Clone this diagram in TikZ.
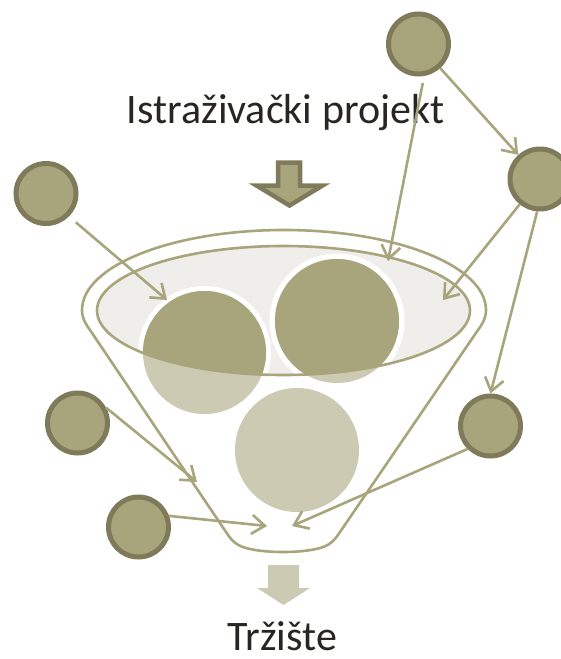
\documentclass[tikz,border=0pt]{standalone}
\usepackage{fontspec}
\setmainfont{Carlito}
\usetikzlibrary{arrows.meta}
\definecolor{olive}{HTML}{A8A47C}
\definecolor{oliveD}{HTML}{7F7B5A}
\definecolor{oliveL}{HTML}{CCCAB2}
\definecolor{ellfill}{HTML}{EFEEEA}
\definecolor{txt}{HTML}{282622}
\tikzset{
  smallc/.style={circle, draw=oliveD, fill=olive, line width=5pt, minimum size=60pt, inner sep=0pt},
  conn/.style={draw=olive, line width=2.6pt, -{Straight Barb[length=13pt,width=19pt]}},
  outl/.style={draw=olive, line width=2.6pt},
  bigtext/.style={font=\fontsize{42}{42}\selectfont, text=txt, anchor=base, inner sep=0pt}
}
\begin{document}
\begin{tikzpicture}[x=1pt,y=-1pt]
\useasboundingbox (0,0) rectangle (560,659);
% outer funnel
\path[outl, fill=white] (82,310) .. controls (82,265.8) and (172.4,230) .. (284,230)
  .. controls (395.6,230) and (486,265.8) .. (486,310)
  .. controls (486,318) and (483,323) .. (478,330) -- (340,532)
  .. controls (334,541) and (330,546) .. (316,549)
  .. controls (298,553) and (268,553) .. (250,549)
  .. controls (236,546) and (232,541) .. (226,532) -- (90,330)
  .. controls (85,323) and (82,318) .. cycle;
% inner ellipse fill
\fill[ellfill] (283.5,310.5) ellipse [x radius=186.5, y radius=64.5];
% big circles: white rings and light parts
\fill[white] (204.5,352.5) circle [radius=66.5];
\fill[white] (337,321) circle [radius=67.5];
\fill[white] (297,450) circle [radius=67];
\fill[oliveL] (204.5,352.5) circle [radius=61.5];
\fill[oliveL] (337,321) circle [radius=62];
\fill[oliveL] (297,450) circle [radius=62];
\begin{scope}
  \clip (283.5,310.5) ellipse [x radius=186.5, y radius=64.5];
  \fill[olive] (204.5,352.5) circle [radius=61.5];
  \fill[olive] (337,321) circle [radius=62];
\end{scope}
\draw[outl] (283.5,310.5) ellipse [x radius=186.5, y radius=64.5];
% top block arrow
\draw[fill=olive, draw=oliveD, line width=4.5pt, line join=miter]
  (278,162.5) -- (300,162.5) -- (300,185.5) -- (322.5,185.5) -- (289.5,205.5)
  -- (256.5,185.5) -- (278,185.5) -- cycle;
% bottom block arrow
\fill[oliveL] (268,565) -- (299,565) -- (299,588) -- (310,588) -- (283.5,605)
  -- (257,588) -- (268,588) -- cycle;
% texts
\node[bigtext] (t1) at (285.5,123) {Istraživački projekt};
\node[bigtext] (t2) at (282.5,650) {Tržište};
% small circles
\node[smallc] (tr) at (418.5,44) {};
\node[smallc] (rr) at (540,179) {};
\node[smallc] (lt) at (46,193.5) {};
\node[smallc] (lm) at (77.5,423) {};
\node[smallc] (lb) at (138.5,527) {};
\node[smallc] (rm) at (490.5,426) {};
% arrow targets
\coordinate (e2) at (388,261);
\coordinate (e3) at (443,300);
\coordinate (e5) at (167,300);
\coordinate (e6) at (197,482);
\coordinate (e7) at (267,526);
\coordinate (e8) at (292,526);
% connectors
\draw[conn] (tr) -- (rr);
\draw[conn, shorten <=7pt] (tr.-80) -- (e2);
\draw[conn] (rr) -- (e3);
\draw[conn] (rr.-95) -- (rm.north);
\draw[conn, shorten <=9pt] (lt.-45) -- (e5);
\draw[conn] (lm.28) -- (e6);
\draw[conn] (lb.20) -- (e7);
\draw[conn] (rm.225) -- (e8);
\end{tikzpicture}
\end{document}
